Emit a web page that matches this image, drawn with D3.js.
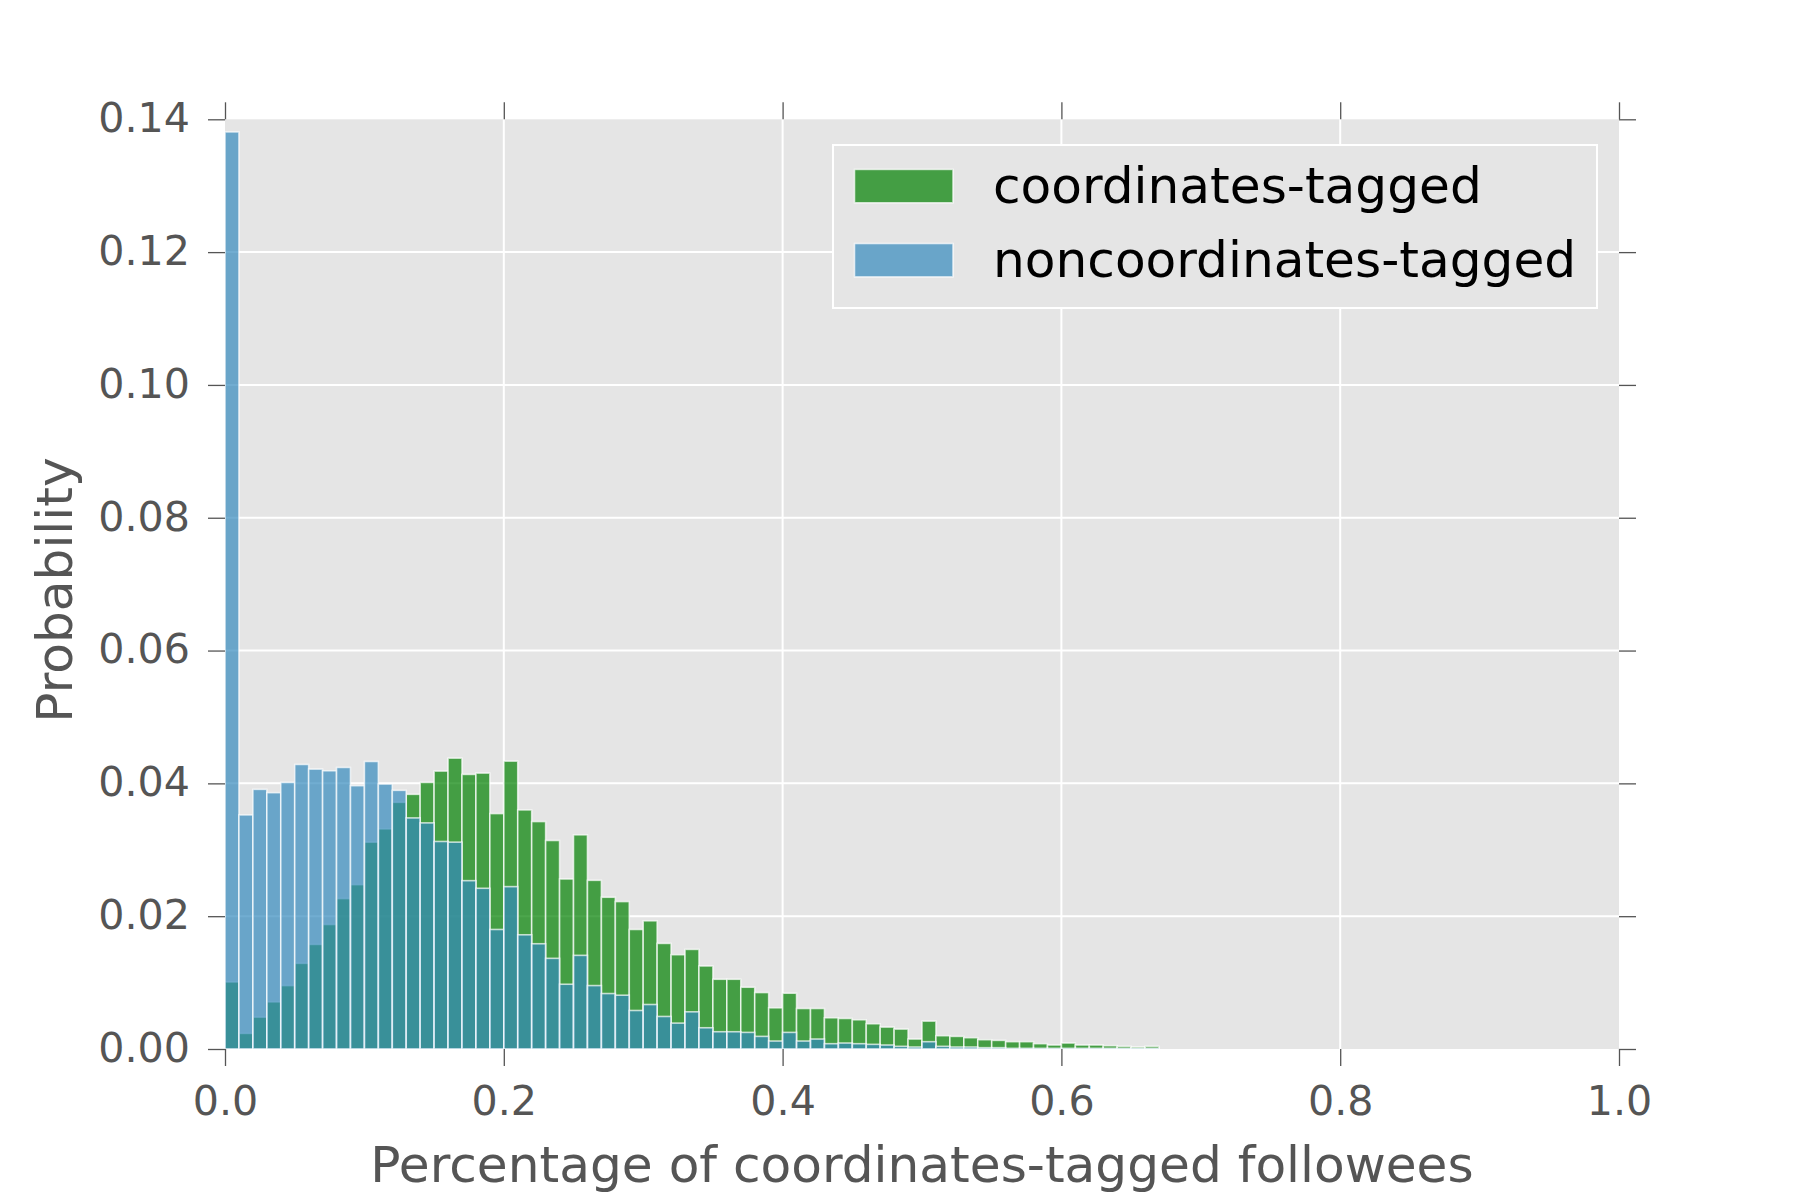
<!DOCTYPE html>
<html>
<head>
<meta charset="utf-8">
<script src="https://cdn.jsdelivr.net/npm/d3@7"></script>
<style>
  html, body { margin: 0; padding: 0; background: #ffffff; }
  svg { display: block; }
  text { font-family: "DejaVu Sans", sans-serif; }
</style>
</head>
<body>
<svg id="chart" width="1800" height="1200"></svg>
<script>
// ---- data ----
const seriesNames = ["coordinates-tagged", "noncoordinates-tagged"];
const binWidth = 0.01;
const coordinatesTagged = [
  0.0101, 0.00235, 0.0048, 0.0071, 0.00955, 0.0129, 0.01575, 0.01875, 0.02265, 0.02475,
  0.03115, 0.03315, 0.03715, 0.03835, 0.04015, 0.04185, 0.0438, 0.04135, 0.04155, 0.03545,
  0.04335, 0.036, 0.03425, 0.0314, 0.0256, 0.03225, 0.0254, 0.02285, 0.0222, 0.018,
  0.0193, 0.0159, 0.0142, 0.015, 0.0125, 0.0105, 0.0105, 0.0093, 0.0085, 0.0062,
  0.0084, 0.0061, 0.0061, 0.0047, 0.0046, 0.0044, 0.0038, 0.0033, 0.003, 0.0015,
  0.0042, 0.002, 0.0019, 0.0017, 0.0014, 0.0013, 0.0011, 0.0011, 0.0008, 0.0006,
  0.0009, 0.0006, 0.0006, 0.0005, 0.0004, 0.0003, 0.0004
];
const noncoordinatesTagged = [
  0.1381, 0.03525, 0.0391, 0.0386, 0.04015, 0.04285, 0.04215, 0.0419, 0.0424, 0.03965,
  0.0433, 0.0399, 0.03895, 0.0348, 0.03405, 0.03125, 0.03115, 0.02535, 0.0242, 0.018,
  0.02445, 0.0172, 0.01585, 0.01365, 0.00975, 0.0141, 0.00955, 0.00835, 0.0081, 0.0058,
  0.0067, 0.0049, 0.0039, 0.0056, 0.0032, 0.0026, 0.0026, 0.0025, 0.0019, 0.0012,
  0.0025, 0.0012, 0.0015, 0.0008, 0.0009, 0.0008, 0.0007, 0.0006, 0.0004, 0.0003,
  0.0011, 0.0004, 0.0003, 0.0003, 0.0002, 0.0002, 0.0001, 0.0001, 0.0001, 0.0001,
  0.0001, 0.0001, 0.0001, 0.0001, 0.0001, 0.0001, 0.0001
];
const binStarts = coordinatesTagged.map((_, i) => +(i * binWidth).toFixed(2));
const xTicks = [0.0, 0.2, 0.4, 0.6, 0.8, 1.0];
const yTicks = [0.00, 0.02, 0.04, 0.06, 0.08, 0.10, 0.12, 0.14];
const xLabel = "Percentage of coordinates-tagged followees";
const yLabel = "Probability";

// ---- layout ----
const svg = d3.select("#chart");
const x = d3.scaleLinear().domain([0, 1]).range([225, 1619]);
const y = d3.scaleLinear().domain([0, 0.14]).range([1049, 119.3]);
const txtColor = "#555555";
const bg = "#e5e5e5";
const greenCol = "#008000";
const blueCol = "#348ABD";
const alpha = 0.7;

// plot background
svg.append("rect")
  .attr("x", x(0)).attr("y", y(0.14))
  .attr("width", x(1) - x(0)).attr("height", y(0) - y(0.14))
  .attr("fill", bg);

// grid
const grid = svg.append("g");
grid.selectAll("line.gx").data(xTicks.slice(1, -1)).join("line")
  .attr("x1", d => x(d)).attr("x2", d => x(d))
  .attr("y1", y(0.14)).attr("y2", y(0))
  .attr("stroke", "#ffffff").attr("stroke-width", 2);
grid.selectAll("line.gy").data(yTicks.slice(1, -1)).join("line")
  .attr("y1", d => y(d)).attr("y2", d => y(d))
  .attr("x1", x(0)).attr("x2", x(1))
  .attr("stroke", "#ffffff").attr("stroke-width", 2);

// bars
function drawBars(values, color) {
  svg.append("g").selectAll("rect").data(values).join("rect")
    .attr("x", (d, i) => x(binStarts[i]))
    .attr("width", (d, i) => x(binStarts[i] + binWidth) - x(binStarts[i]))
    .attr("y", d => y(d))
    .attr("height", d => y(0) - y(d))
    .attr("fill", color).attr("fill-opacity", alpha)
    .attr("stroke", "#ffffff").attr("stroke-opacity", alpha)
    .attr("stroke-width", 1.6);
}
drawBars(coordinatesTagged, greenCol);
drawBars(noncoordinatesTagged, blueCol);

// axes (ticks outward on all four sides, no spines)
function styleAxis(g) {
  g.select(".domain").remove();
  g.selectAll(".tick line").attr("stroke", txtColor).attr("stroke-width", 1.3);
  g.selectAll(".tick text").attr("fill", txtColor)
    .style("font-family", "'DejaVu Sans', sans-serif").style("font-size", "41.2px");
}
const fmtX = d3.format(".1f");
const fmtY = d3.format(".2f");

const xAxisB = svg.append("g").attr("transform", `translate(0,${y(0)})`)
  .call(d3.axisBottom(x).tickValues(xTicks).tickFormat(fmtX).tickSizeOuter(0).tickSize(17).tickPadding(19));
styleAxis(xAxisB);
xAxisB.selectAll(".tick text").attr("dy", null).attr("y", 66);

const xAxisT = svg.append("g").attr("transform", `translate(0,${y(0.14)})`)
  .call(d3.axisTop(x).tickValues(xTicks).tickFormat("").tickSizeOuter(0).tickSize(17));
styleAxis(xAxisT);

const yAxisL = svg.append("g").attr("transform", `translate(${x(0)},0)`)
  .call(d3.axisLeft(y).tickValues(yTicks).tickFormat(fmtY).tickSizeOuter(0).tickSize(17));
styleAxis(yAxisL);
yAxisL.selectAll(".tick text").attr("x", -35).attr("dy", null).attr("y", 12.4);

const yAxisR = svg.append("g").attr("transform", `translate(${x(1)},0)`)
  .call(d3.axisRight(y).tickValues(yTicks).tickFormat("").tickSizeOuter(0).tickSize(17));
styleAxis(yAxisR);

// axis labels
svg.append("text")
  .attr("x", (x(0) + x(1)) / 2).attr("y", 1182)
  .attr("text-anchor", "middle").attr("fill", txtColor)
  .style("font-size", "50.2px").text(xLabel);
svg.append("text")
  .attr("transform", `translate(72,590) rotate(-90)`)
  .attr("text-anchor", "middle").attr("fill", txtColor)
  .style("font-size", "50.2px").text(yLabel);

// legend
const leg = svg.append("g");
leg.append("rect")
  .attr("x", 833).attr("y", 145).attr("width", 764).attr("height", 163)
  .attr("fill", bg).attr("stroke", "#ffffff").attr("stroke-width", 2);
const legColors = [greenCol, blueCol];
const rowY = [169.4, 243.5];
seriesNames.forEach((name, i) => {
  leg.append("rect")
    .attr("x", 854.5).attr("y", rowY[i]).attr("width", 98.5).attr("height", 33.4)
    .attr("fill", legColors[i]).attr("fill-opacity", alpha)
    .attr("stroke", "#ffffff").attr("stroke-opacity", alpha).attr("stroke-width", 1.6);
  leg.append("text")
    .attr("x", 993).attr("y", rowY[i] + 33.4)
    .attr("fill", "#000000").style("font-size", "50.2px").text(name);
});
</script>
</body>
</html>
